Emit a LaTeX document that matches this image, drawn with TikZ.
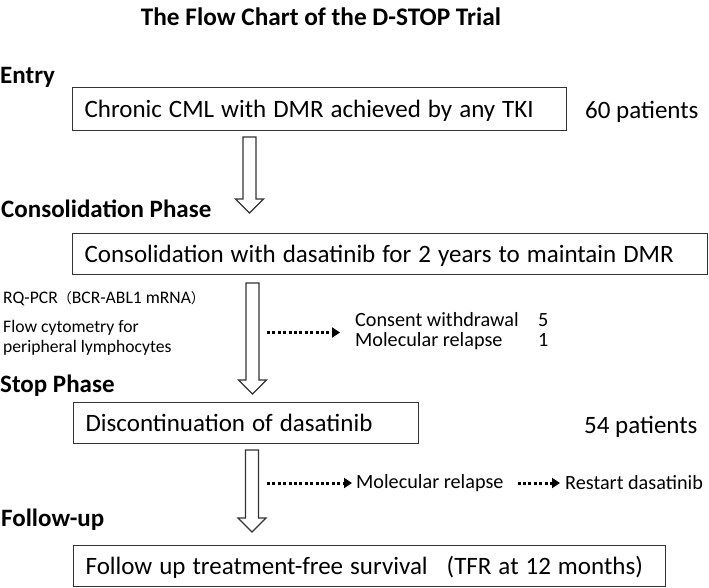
\documentclass[tikz,border=0pt]{standalone}
\usepackage{fontspec}
\setmainfont{Carlito}
\newfontfamily\cjk{Noto Sans CJK JP}
\usetikzlibrary{arrows.meta,positioning,calc}

\begin{document}
\begin{tikzpicture}[x=1pt, y=-1pt,
    box/.style={draw=black!80, line width=1.2pt, anchor=north west, inner xsep=12pt, align=flush left, text height=16pt, text depth=0pt, font=\fontsize{25}{30}\selectfont, execute at begin node={\spaceskip=7pt\relax}},
    phase/.style={anchor=base west, inner sep=0pt, font=\bfseries\fontsize{25}{30}\selectfont},
    count/.style={anchor=base west, inner sep=0pt, font=\fontsize{25}{30}\selectfont},
    note/.style={anchor=base west, inner sep=0pt, font=\fontsize{17.6}{21}\selectfont},
    side/.style={anchor=west, inner sep=0pt, font=\fontsize{20.2}{19}\selectfont},
    hollow/.style={draw=black!80, line width=1.2pt, line join=miter, fill=white},
    dots/.style={line width=3pt, dash pattern=on 3pt off 2.4pt, -{Triangle[length=8pt,width=10pt]}},
]
\useasboundingbox (0,0) rectangle (709,587);

\node[anchor=base, font=\bfseries\fontsize{25.3}{30}\selectfont] (title) at (321,25) {The Flow Chart of the D-STOP Trial};

% entry
\node[phase] (entry) at (0,83) {Entry};
\node[box, minimum height=43pt, text width=470pt] (chronic) at (72,87) {\mbox{Chronic CML with DMR achieved by any TKI}};
\node[count] (n60) at (585,118) {60 patients};
\coordinate (aTop) at (249.5,137);
\coordinate (aTip) at (249.5,213);

% consolidation
\node[phase] (consol) at (1,217) {Consolidation Phase};
\node[box, minimum height=41pt, text width=611pt] (dasa) at (72,233) {\mbox{Consolidation with dasatinib for 2 years to maintain DMR}};
\node[note] (pcr) at (3,303) {RQ-PCR{\cjk\fontsize{14}{16}\selectfont （}BCR-ABL1 mRNA{\cjk\fontsize{14}{16}\selectfont ）}};
\node[note] (flow) at (3,332) {Flow cytometry for};
\node[note] (lymph) at (3,352) {peripheral lymphocytes};
\coordinate (bTop) at (252.5,283);
\coordinate (bTip) at (252.5,394);
\coordinate (dropfrom) at (267,332.5);
\node[side] (drop) at (355,332.5) {\begin{tabular}{@{}p{183pt}@{}l@{}}Consent withdrawal & 5\\ Molecular relapse & 1\end{tabular}};
\draw[dots, shorten >=15pt] (dropfrom) -- (drop.west);

% stop
\node[phase] (stop) at (0,392) {Stop Phase};
\node[box, minimum height=41pt, text width=321pt] (disc) at (73,402) {\mbox{Discontinuation of dasatinib}};
\node[count] (n54) at (584,433) {54 patients};
\coordinate (cTop) at (252,450);
\coordinate (cTip) at (252,532);
\coordinate (relfrom) at (267,483);
\node[side] (relapse) at (356,483) {Molecular relapse};
\node[side] (restart) at (565,483) {Restart dasatinib};
\draw[dots, shorten >=4pt] (relfrom) -- (relapse);
\draw[dots, shorten <=14pt, shorten >=5pt] (relapse) -- (restart);

% follow-up
\node[phase] (follow) at (1,526) {Follow-up};
\node[box, minimum height=41pt, text width=568pt] (tfr) at (73,545) {\mbox{Follow up treatment-free survival\hspace{19pt}(TFR at 12 months)}};

% hollow block arrows
\foreach \from/\to in {aTop/aTip, bTop/bTip, cTop/cTip}
  \draw[hollow] ($(\from)+(-6.5,0)$) -- ($(\to)+(-6.5,-14)$) -- ($(\to)+(-14,-14)$) -- (\to)
    -- ($(\to)+(14,-14)$) -- ($(\to)+(6.5,-14)$) -- ($(\from)+(6.5,0)$) -- cycle;
\end{tikzpicture}
\end{document}
